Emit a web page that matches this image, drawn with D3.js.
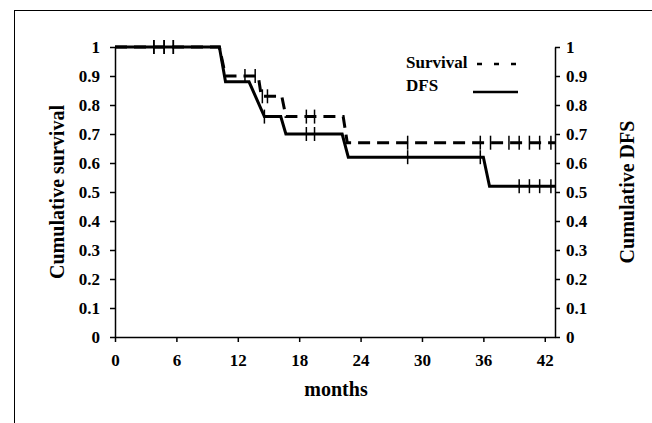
<!DOCTYPE html>
<html>
<head>
<meta charset="utf-8">
<script src="https://cdn.jsdelivr.net/npm/d3@7"></script>
<style>
  html, body { margin: 0; padding: 0; background: #fff; }
  svg { display: block; }
  text { font-family: "Liberation Serif", "Times New Roman", serif; font-weight: bold; fill: #000; }
</style>
</head>
<body>
<svg id="chart" width="652" height="423"></svg>
<script>
// Kaplan-Meier corners (months, value); slanted joins as drawn in the source
const survivalTimes = [0, 10.2, 10.8, 14.0, 14.3, 16.3, 16.7, 22.3, 22.7, 43];
const survivalVals  = [1, 1, 0.9, 0.9, 0.83, 0.83, 0.76, 0.76, 0.67, 0.67];
const dfsTimes = [0, 10.2, 10.8, 13.1, 14.6, 16.2, 16.7, 22.2, 22.8, 36.0, 36.6, 43];
const dfsVals  = [1, 1, 0.88, 0.88, 0.76, 0.76, 0.70, 0.70, 0.62, 0.62, 0.52, 0.52];

// censored observations
const survivalCensor = [3.8, 4.8, 5.7, 12.7, 13.7, 14.4, 14.9, 18.7, 19.5, 28.6, 35.7, 36.7, 38.5, 39.5, 40.5, 41.5, 42.6];
const dfsCensor = [3.8, 4.8, 5.7, 14.6, 18.7, 19.5, 28.6, 35.7, 39.5, 40.5, 41.5, 42.6];

const xTicks = [0, 6, 12, 18, 24, 30, 36, 42];
const yTicks = [0, 0.1, 0.2, 0.3, 0.4, 0.5, 0.6, 0.7, 0.8, 0.9, 1];

const svg = d3.select("#chart");

// outer frame (runs off the right and bottom edges)
svg.append("rect")
    .attr("x", 14.5).attr("y", 10.5)
    .attr("width", 700).attr("height", 500)
    .attr("fill", "none").attr("stroke", "#000").attr("stroke-width", 1);

const x = d3.scaleLinear().domain([0, 43]).range([115, 555]);
const y = d3.scaleLinear().domain([0, 1]).range([337, 47]);

const fmt = d => String(+d.toFixed(1));

function styleAxis(g) {
    g.select(".domain").attr("stroke-width", 1.5);
    g.selectAll(".tick line").attr("stroke-width", 1.5);
    g.selectAll(".tick text")
        .attr("font-family", "Liberation Serif, serif")
        .attr("font-weight", "bold")
        .attr("font-size", 17)
        .attr("fill", "#000");
}

svg.append("g")
    .attr("transform", "translate(115,0)")
    .call(d3.axisLeft(y).tickValues(yTicks).tickFormat(fmt).tickSize(5).tickSizeOuter(0).tickPadding(10))
    .call(styleAxis);

svg.append("g")
    .attr("transform", "translate(555,0)")
    .call(d3.axisRight(y).tickValues(yTicks).tickFormat(fmt).tickSize(5).tickSizeOuter(0).tickPadding(6))
    .call(styleAxis);

svg.append("g")
    .attr("transform", "translate(0,337)")
    .call(d3.axisBottom(x).tickValues(xTicks).tickSize(5).tickSizeOuter(0).tickPadding(12))
    .call(styleAxis);

// axis titles
svg.append("text")
    .attr("transform", "translate(64,192) rotate(-90)")
    .attr("text-anchor", "middle")
    .attr("font-size", 20)
    .text("Cumulative survival");

svg.append("text")
    .attr("transform", "translate(634,192) rotate(-90)")
    .attr("text-anchor", "middle")
    .attr("font-size", 20)
    .text("Cumulative DFS");

svg.append("text")
    .attr("x", 336).attr("y", 396)
    .attr("text-anchor", "middle")
    .attr("font-size", 20)
    .text("months");

// curves
const line = d3.line().x(d => x(d[0])).y(d => y(d[1]));
const survivalPts = survivalTimes.map((t, i) => [t, survivalVals[i]]);
const dfsPts = dfsTimes.map((t, i) => [t, dfsVals[i]]);

svg.append("path")
    .attr("d", line(survivalPts))
    .attr("fill", "none").attr("stroke", "#000")
    .attr("stroke-width", 3)
    .attr("stroke-dasharray", "12,7");

svg.append("path")
    .attr("d", line(dfsPts))
    .attr("fill", "none").attr("stroke", "#000")
    .attr("stroke-width", 3);

// value of a step curve at time t
function valueAt(times, vals, t) {
    let v = vals[0];
    for (let i = 0; i < times.length; i++) {
        if (times[i] <= t) v = vals[i];
    }
    return v;
}

function drawCensor(times, vals, marks) {
    svg.append("g").selectAll("line")
        .data(marks)
        .join("line")
        .attr("x1", d => x(d)).attr("x2", d => x(d))
        .attr("y1", d => y(valueAt(times, vals, d)) - 7)
        .attr("y2", d => y(valueAt(times, vals, d)) + 7)
        .attr("stroke", "#000").attr("stroke-width", 1.5);
}
drawCensor(survivalTimes, survivalVals, survivalCensor);
drawCensor(dfsTimes, dfsVals, dfsCensor);

// legend
svg.append("text").attr("x", 406).attr("y", 68).attr("font-size", 17).text("Survival");
svg.append("line")
    .attr("x1", 477).attr("x2", 517).attr("y1", 64).attr("y2", 64)
    .attr("stroke", "#000").attr("stroke-width", 2.5).attr("stroke-dasharray", "5,12");
svg.append("text").attr("x", 406).attr("y", 91).attr("font-size", 17).text("DFS");
svg.append("line")
    .attr("x1", 473).attr("x2", 518).attr("y1", 92).attr("y2", 92)
    .attr("stroke", "#000").attr("stroke-width", 2.5);
</script>
</body>
</html>
